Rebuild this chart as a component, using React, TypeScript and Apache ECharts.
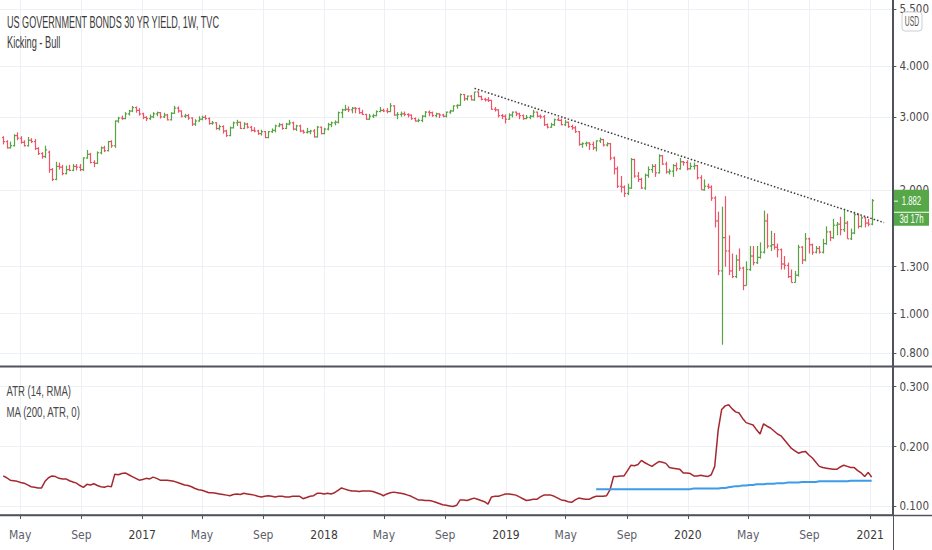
import React, { useEffect, useRef } from "react";
import * as echarts from "echarts";

const TITLE = "US GOVERNMENT BONDS 30 YR YIELD, 1W, TVC";
const SUBTITLE = "Kicking - Bull";
const ATR_LABEL = "ATR (14, RMA)";
const MA_LABEL = "MA (200, ATR, 0)";
const CURRENCY = "USD";
const COUNTDOWN = "3d 17h";

const FIRST_BAR = "2016-03-28";
const X_MIN = "2016-03-21T14:00:00Z";
const X_MAX = "2021-02-14T14:00:00Z";
const X_TICKS = [
  "2016-05-01", "2016-09-01", "2017-01-01", "2017-05-01", "2017-09-01",
  "2018-01-01", "2018-05-01", "2018-09-01", "2019-01-01", "2019-05-01",
  "2019-09-01", "2020-01-01", "2020-05-01", "2020-09-01", "2021-01-01",
];
const MONTHS = ["Jan", "Feb", "Mar", "Apr", "May", "Jun", "Jul", "Aug", "Sep", "Oct", "Nov", "Dec"];
const PRICE_TICKS = [0.8, 1.0, 1.3, 2.0, 3.0, 4.0, 5.5];
const ATR_TICKS = [0.1, 0.2, 0.3];
const PRICE_MIN = 0.7456;
const PRICE_MAX = 5.79;
const ATR_MIN = 0.0858;
const ATR_MAX = 0.3329;

// weekly bars [open, high, low, close]
const bars2016 = [
  [2.68, 2.70, 2.58, 2.62], [2.62, 2.64, 2.52, 2.53], [2.53, 2.62, 2.52, 2.56], [2.56, 2.73, 2.55, 2.71],
  [2.71, 2.76, 2.64, 2.67], [2.67, 2.70, 2.59, 2.61], [2.61, 2.64, 2.55, 2.56], [2.56, 2.69, 2.55, 2.64],
  [2.64, 2.67, 2.60, 2.62], [2.62, 2.66, 2.50, 2.52], [2.52, 2.54, 2.43, 2.45], [2.45, 2.47, 2.38, 2.41],
  [2.41, 2.56, 2.39, 2.50], [2.47, 2.49, 2.20, 2.24], [2.24, 2.26, 2.10, 2.12], [2.12, 2.34, 2.11, 2.28],
  [2.28, 2.33, 2.24, 2.27], [2.27, 2.30, 2.17, 2.19], [2.19, 2.29, 2.18, 2.24], [2.24, 2.30, 2.22, 2.23],
  [2.23, 2.31, 2.22, 2.28], [2.28, 2.31, 2.23, 2.27], [2.27, 2.31, 2.22, 2.24], [2.24, 2.40, 2.22, 2.39],
  [2.39, 2.50, 2.38, 2.44], [2.44, 2.46, 2.32, 2.33], [2.33, 2.36, 2.27, 2.32], [2.32, 2.48, 2.31, 2.46],
  [2.46, 2.55, 2.44, 2.53], [2.53, 2.56, 2.47, 2.49], [2.49, 2.63, 2.48, 2.62], [2.62, 2.64, 2.53, 2.56],
  [2.56, 2.95, 2.53, 2.94], [2.94, 3.01, 2.91, 2.99], [2.99, 3.03, 2.96, 2.98], [2.98, 3.09, 2.97, 3.06],
  [3.06, 3.13, 3.03, 3.11], [3.11, 3.20, 3.09, 3.17], [3.17, 3.19, 3.08, 3.12], [3.12, 3.16, 3.03, 3.06],
];
const bars2017 = [
  [3.06, 3.08, 2.97, 3.00], [3.00, 3.02, 2.94, 2.98], [2.98, 3.05, 2.96, 3.01], [3.01, 3.09, 2.99, 3.06],
  [3.06, 3.10, 3.02, 3.08], [3.08, 3.09, 2.98, 3.01], [3.01, 3.08, 2.99, 3.04], [3.04, 3.06, 2.95, 2.96],
  [2.96, 3.09, 2.95, 3.07], [3.07, 3.20, 3.06, 3.16], [3.16, 3.19, 3.08, 3.11], [3.11, 3.12, 3.00, 3.02],
  [3.02, 3.06, 2.99, 3.03], [3.03, 3.06, 2.96, 2.99], [2.99, 3.00, 2.86, 2.89], [2.89, 2.97, 2.86, 2.94],
  [2.94, 3.02, 2.93, 2.97], [2.97, 3.03, 2.95, 3.00], [3.00, 3.04, 2.96, 2.98], [2.98, 3.00, 2.88, 2.90],
  [2.90, 2.94, 2.88, 2.91], [2.91, 2.92, 2.80, 2.82], [2.82, 2.88, 2.79, 2.85], [2.85, 2.87, 2.74, 2.78],
  [2.78, 2.80, 2.69, 2.71], [2.71, 2.85, 2.70, 2.83], [2.83, 2.93, 2.82, 2.91], [2.91, 2.96, 2.86, 2.92],
  [2.92, 2.93, 2.81, 2.82], [2.82, 2.92, 2.81, 2.89], [2.89, 2.91, 2.82, 2.84], [2.84, 2.86, 2.77, 2.79],
  [2.79, 2.84, 2.76, 2.78], [2.78, 2.80, 2.72, 2.74], [2.74, 2.80, 2.71, 2.77], [2.77, 2.78, 2.67, 2.68],
  [2.68, 2.78, 2.67, 2.77], [2.77, 2.82, 2.75, 2.79], [2.79, 2.88, 2.76, 2.86], [2.86, 2.91, 2.84, 2.88],
  [2.88, 2.90, 2.80, 2.82], [2.82, 2.91, 2.81, 2.89], [2.89, 2.96, 2.87, 2.91], [2.91, 2.93, 2.79, 2.81],
  [2.81, 2.88, 2.78, 2.86], [2.86, 2.88, 2.76, 2.78], [2.78, 2.80, 2.74, 2.76], [2.76, 2.83, 2.74, 2.77],
  [2.77, 2.80, 2.73, 2.78], [2.78, 2.81, 2.68, 2.69], [2.69, 2.86, 2.68, 2.84], [2.84, 2.85, 2.73, 2.74],
];
const bars2018 = [
  [2.74, 2.83, 2.73, 2.81], [2.81, 2.91, 2.79, 2.88], [2.88, 2.93, 2.84, 2.91], [2.91, 2.95, 2.87, 2.92],
  [2.92, 3.10, 2.90, 3.08], [3.08, 3.15, 2.99, 3.13], [3.13, 3.22, 3.11, 3.14], [3.14, 3.19, 3.09, 3.13],
  [3.13, 3.18, 3.07, 3.16], [3.16, 3.18, 3.07, 3.15], [3.15, 3.17, 3.06, 3.08], [3.08, 3.13, 3.04, 3.05],
  [3.05, 3.06, 2.96, 2.97], [2.97, 3.06, 2.96, 3.02], [3.02, 3.06, 2.99, 3.03], [3.03, 3.12, 3.02, 3.10],
  [3.10, 3.18, 3.09, 3.12], [3.12, 3.15, 3.09, 3.11], [3.11, 3.16, 3.07, 3.10], [3.10, 3.25, 3.09, 3.20],
  [3.20, 3.21, 3.03, 3.04], [3.04, 3.09, 2.97, 3.05], [3.05, 3.10, 3.01, 3.06], [3.06, 3.10, 3.02, 3.05],
  [3.05, 3.07, 3.00, 3.04], [3.04, 3.05, 2.96, 2.98], [2.98, 3.00, 2.93, 2.94], [2.94, 2.98, 2.92, 2.95],
  [2.95, 3.04, 2.92, 3.02], [3.02, 3.11, 3.00, 3.09], [3.09, 3.12, 3.02, 3.08], [3.08, 3.10, 3.01, 3.03],
  [3.03, 3.08, 3.00, 3.06], [3.06, 3.07, 2.99, 3.04], [3.04, 3.06, 3.00, 3.02], [3.02, 3.10, 3.00, 3.09],
  [3.09, 3.13, 3.06, 3.11], [3.11, 3.21, 3.10, 3.20], [3.20, 3.23, 3.15, 3.21], [3.21, 3.43, 3.20, 3.41],
  [3.41, 3.42, 3.29, 3.33], [3.33, 3.39, 3.30, 3.38], [3.38, 3.40, 3.30, 3.31], [3.31, 3.46, 3.29, 3.46],
  [3.46, 3.47, 3.36, 3.37], [3.37, 3.39, 3.30, 3.32], [3.32, 3.35, 3.28, 3.31], [3.31, 3.36, 3.27, 3.30],
  [3.30, 3.31, 3.13, 3.14], [3.14, 3.18, 3.10, 3.13], [3.13, 3.14, 3.00, 3.03], [3.03, 3.06, 2.97, 3.02],
];
const bars2019 = [
  [3.02, 3.05, 2.90, 2.97], [2.97, 3.07, 2.96, 3.04], [3.04, 3.10, 3.00, 3.09], [3.09, 3.10, 3.02, 3.06],
  [3.06, 3.08, 2.97, 3.03], [3.03, 3.05, 2.96, 2.98], [2.98, 3.04, 2.97, 3.00], [3.00, 3.04, 2.97, 3.02],
  [3.02, 3.13, 3.00, 3.09], [3.09, 3.10, 3.00, 3.02], [3.02, 3.05, 2.98, 3.01], [3.01, 3.04, 2.86, 2.88],
  [2.88, 2.90, 2.82, 2.84], [2.84, 2.91, 2.83, 2.88], [2.88, 2.98, 2.86, 2.96], [2.96, 3.00, 2.94, 2.95],
  [2.95, 2.98, 2.87, 2.88], [2.88, 2.96, 2.86, 2.92], [2.92, 2.93, 2.83, 2.85], [2.85, 2.88, 2.80, 2.83],
  [2.83, 2.86, 2.75, 2.77], [2.77, 2.78, 2.56, 2.58], [2.58, 2.61, 2.53, 2.59], [2.59, 2.62, 2.55, 2.60],
  [2.60, 2.61, 2.50, 2.58], [2.58, 2.62, 2.50, 2.53], [2.53, 2.64, 2.48, 2.63], [2.63, 2.68, 2.60, 2.65],
  [2.65, 2.66, 2.55, 2.57], [2.57, 2.61, 2.55, 2.59], [2.59, 2.60, 2.36, 2.39], [2.39, 2.41, 2.18, 2.25],
  [2.25, 2.28, 2.02, 2.04], [2.04, 2.16, 1.97, 2.03], [2.03, 2.05, 1.92, 1.96], [1.96, 2.07, 1.94, 2.02],
  [2.02, 2.39, 2.01, 2.37], [2.37, 2.38, 2.14, 2.16], [2.16, 2.21, 2.09, 2.12], [2.12, 2.14, 2.01, 2.02],
  [2.02, 2.19, 2.00, 2.17], [2.17, 2.28, 2.14, 2.24], [2.24, 2.31, 2.20, 2.28], [2.28, 2.31, 2.15, 2.20],
  [2.20, 2.44, 2.19, 2.42], [2.42, 2.43, 2.30, 2.31], [2.31, 2.34, 2.19, 2.21], [2.21, 2.25, 2.18, 2.22],
  [2.22, 2.31, 2.15, 2.29], [2.29, 2.33, 2.22, 2.25], [2.25, 2.39, 2.24, 2.34], [2.34, 2.35, 2.29, 2.33],
];
const bars2020 = [
  [2.33, 2.36, 2.23, 2.25], [2.25, 2.33, 2.24, 2.28], [2.28, 2.33, 2.24, 2.29], [2.29, 2.30, 2.12, 2.14],
  [2.14, 2.17, 2.00, 2.00], [2.00, 2.12, 1.99, 2.04], [2.04, 2.07, 2.01, 2.03], [2.03, 2.05, 1.88, 1.91],
  [1.91, 1.93, 1.62, 1.68], [1.68, 1.77, 1.24, 1.27], [1.27, 1.82, 0.84, 1.53], [1.53, 1.93, 1.30, 1.42],
  [1.42, 1.55, 1.24, 1.27], [1.27, 1.40, 1.22, 1.23], [1.23, 1.39, 1.22, 1.35], [1.35, 1.44, 1.27, 1.29],
  [1.29, 1.30, 1.14, 1.17], [1.17, 1.34, 1.17, 1.28], [1.28, 1.46, 1.27, 1.38], [1.38, 1.46, 1.31, 1.33],
  [1.33, 1.46, 1.32, 1.37], [1.37, 1.49, 1.36, 1.41], [1.41, 1.78, 1.40, 1.68], [1.68, 1.75, 1.44, 1.46],
  [1.46, 1.59, 1.42, 1.47], [1.47, 1.57, 1.43, 1.45], [1.45, 1.48, 1.37, 1.43], [1.43, 1.44, 1.28, 1.32],
  [1.32, 1.38, 1.28, 1.31], [1.31, 1.33, 1.22, 1.23], [1.23, 1.28, 1.19, 1.19], [1.19, 1.27, 1.19, 1.24],
  [1.24, 1.47, 1.23, 1.45], [1.45, 1.46, 1.32, 1.35], [1.35, 1.57, 1.34, 1.52], [1.52, 1.53, 1.40, 1.47],
  [1.47, 1.48, 1.39, 1.41], [1.41, 1.46, 1.40, 1.44], [1.44, 1.46, 1.40, 1.41], [1.41, 1.52, 1.40, 1.48],
  [1.48, 1.63, 1.47, 1.58], [1.58, 1.59, 1.50, 1.53], [1.53, 1.70, 1.52, 1.64], [1.64, 1.67, 1.55, 1.65],
  [1.65, 1.72, 1.55, 1.60], [1.60, 1.80, 1.58, 1.66], [1.66, 1.68, 1.52, 1.52], [1.52, 1.61, 1.51, 1.57],
  [1.57, 1.77, 1.56, 1.74], [1.74, 1.75, 1.61, 1.63], [1.63, 1.73, 1.62, 1.71], [1.71, 1.72, 1.62, 1.66],
  [1.66, 1.70, 1.63, 1.65],
];
const bars2021 = [[1.65, 1.90, 1.64, 1.882]];

// ATR (14, RMA), one value per weekly bar
const atr = [
  0.151, 0.148, 0.144, 0.143, 0.142, 0.140, 0.139, 0.136, 0.133, 0.132,
  0.131, 0.131, 0.142, 0.148, 0.151, 0.150, 0.147, 0.146, 0.146, 0.143,
  0.141, 0.139, 0.135, 0.132, 0.137, 0.136, 0.138, 0.135, 0.133, 0.132,
  0.134, 0.133, 0.154, 0.153, 0.155, 0.156, 0.153, 0.150, 0.147, 0.144,
  0.145, 0.147, 0.146, 0.149, 0.147, 0.144, 0.144, 0.144, 0.143, 0.142,
  0.140, 0.138, 0.136, 0.135, 0.133, 0.130, 0.128, 0.127, 0.125, 0.123,
  0.123, 0.122, 0.121, 0.120, 0.119, 0.118, 0.120, 0.121, 0.120, 0.122,
  0.121, 0.120, 0.119, 0.117, 0.116, 0.117, 0.118, 0.117, 0.116, 0.117,
  0.117, 0.116, 0.116, 0.117, 0.117, 0.117, 0.113, 0.115, 0.117, 0.118,
  0.122, 0.122, 0.121, 0.122, 0.121, 0.123, 0.127, 0.131, 0.129, 0.127,
  0.126, 0.126, 0.125, 0.126, 0.126, 0.126, 0.125, 0.123, 0.121, 0.118,
  0.121, 0.123, 0.124, 0.123, 0.122, 0.121, 0.119, 0.117, 0.114, 0.111,
  0.111, 0.110, 0.110, 0.109, 0.107, 0.105, 0.103, 0.102, 0.101, 0.100,
  0.102, 0.111, 0.111, 0.110, 0.112, 0.114, 0.112, 0.110, 0.108, 0.104,
  0.116, 0.117, 0.117, 0.119, 0.121, 0.121, 0.120, 0.119, 0.116, 0.113,
  0.110, 0.111, 0.112, 0.112, 0.116, 0.119, 0.119, 0.119, 0.117, 0.114,
  0.111, 0.110, 0.108, 0.107, 0.111, 0.114, 0.113, 0.112, 0.112, 0.115,
  0.117, 0.117, 0.117, 0.118, 0.128, 0.150, 0.150, 0.151, 0.151, 0.160,
  0.169, 0.168, 0.170, 0.177, 0.173, 0.170, 0.167, 0.171, 0.175, 0.174,
  0.172, 0.165, 0.164, 0.163, 0.162, 0.156, 0.156, 0.155, 0.151, 0.151,
  0.152, 0.151, 0.150, 0.153, 0.167, 0.228, 0.262, 0.268, 0.270, 0.263,
  0.258, 0.256, 0.247, 0.240, 0.238, 0.236, 0.228, 0.221, 0.238, 0.234,
  0.231, 0.226, 0.221, 0.218, 0.211, 0.204, 0.197, 0.193, 0.189, 0.191,
  0.192, 0.186, 0.181, 0.174, 0.167, 0.165, 0.164, 0.163, 0.162, 0.162,
  0.166, 0.169, 0.167, 0.165, 0.165, 0.160, 0.156, 0.150, 0.157, 0.149,
];

// MA (200) of ATR, starts at bar index MA_START
const MA_START = 170;
const maAtr = [
  0.129, 0.129, 0.129, 0.129, 0.129, 0.129, 0.129, 0.129, 0.129, 0.129,
  0.129, 0.129, 0.129, 0.129, 0.129, 0.129, 0.129, 0.129, 0.129, 0.129,
  0.129, 0.129, 0.129, 0.129, 0.129, 0.129, 0.129, 0.129, 0.130, 0.130,
  0.130, 0.130, 0.130, 0.130, 0.130, 0.130, 0.131, 0.131, 0.132, 0.133,
  0.134, 0.134, 0.135, 0.135, 0.136, 0.136, 0.137, 0.137, 0.137, 0.138,
  0.138, 0.138, 0.139, 0.139, 0.139, 0.140, 0.140, 0.140, 0.140, 0.141,
  0.141, 0.141, 0.141, 0.141, 0.142, 0.142, 0.142, 0.142, 0.142, 0.142,
  0.142, 0.142, 0.142, 0.143, 0.143, 0.143, 0.143, 0.143, 0.143, 0.143,
];

// dotted trend line: [date, yield]
const trendLine = [
  ["2018-10-30", 3.53],
  ["2021-01-29", 1.664],
];

const UP = "#58a444";
const DOWN = "#ef5367";
const LABEL_GREEN = "#55a748";
const ATR_COLOR = "#a6282f";
const MA_COLOR = "#3f9be8";
const GRID_COLOR = "#edf0f4";
const AXIS_COLOR = "#50535e";
const AXIS_FONT = "'Liberation Sans Narrow', 'Arial Narrow', 'DejaVu Sans Condensed', 'Liberation Sans', sans-serif";
const TEXT_FONT = "'Liberation Sans', Arial, sans-serif";

const WEEK = 7 * 24 * 3600 * 1000;

export default function App() {
  const ref = useRef<HTMLDivElement>(null);

  useEffect(() => {
    if (!ref.current) return;
    const chart = echarts.init(ref.current, undefined, { renderer: "svg" });

    const bars = [...bars2016, ...bars2017, ...bars2018, ...bars2019, ...bars2020, ...bars2021];
    const t0 = Date.parse(FIRST_BAR + "T00:00:00Z");
    const dates = bars.map((_, i) => t0 + i * WEEK);
    const ohlc = bars.map((b, i) => [dates[i], b[0], b[1], b[2], b[3]]);
    const atrData = atr.map((v, i) => [dates[i], v]);
    const maData = maAtr.map((v, k) => [dates[MA_START + k], v]);
    const trendData = trendLine.map(([d, v]) => [Date.parse((d as string) + "T00:00:00Z"), v]);
    const xTicks = X_TICKS.map((d) => Date.parse(d + "T00:00:00Z"));
    const xMin = Date.parse(X_MIN);
    const xMax = Date.parse(X_MAX);

    const xFormatter = (v: number) => {
      const d = new Date(v);
      return d.getUTCMonth() === 0 ? `{y|${d.getUTCFullYear()}}` : `{m|${MONTHS[d.getUTCMonth()]}}`;
    };

    const yAxisCommon = {
      position: "right",
      axisLine: { show: true, onZero: false, lineStyle: { color: AXIS_COLOR, width: 1 } },
      axisTick: { show: true, length: 4, lineStyle: { color: AXIS_COLOR } },
      splitLine: { show: true, lineStyle: { color: GRID_COLOR, width: 1 } },
    };

    chart.setOption({
      animation: false,
      backgroundColor: "#ffffff",
      grid: [
        { left: 0, right: 39, top: 0, height: 366 },
        { left: 0, right: 39, top: 367, height: 148 },
      ],
      xAxis: [
        {
          type: "value", gridIndex: 0, min: xMin, max: xMax, scale: true,
          axisLine: { show: false },
          axisTick: { show: false, customValues: xTicks },
          axisLabel: { show: false, customValues: xTicks },
          splitLine: { show: true, lineStyle: { color: GRID_COLOR, width: 1 } },
        },
        {
          type: "value", gridIndex: 1, min: xMin, max: xMax, scale: true,
          axisLine: { show: true, onZero: false, lineStyle: { color: AXIS_COLOR, width: 1.5 } },
          axisTick: { show: true, length: 4, customValues: xTicks, lineStyle: { color: AXIS_COLOR } },
          axisLabel: {
            customValues: xTicks, formatter: xFormatter, margin: 14,
            rich: {
              y: { color: "#3a3a3a", fontSize: 12, fontFamily: AXIS_FONT },
              m: { color: "#5d606b", fontSize: 12, fontFamily: AXIS_FONT },
            },
          },
          splitLine: { show: true, lineStyle: { color: GRID_COLOR, width: 1 } },
        },
      ],
      yAxis: [
        {
          ...yAxisCommon,
          type: "log", logBase: 10, gridIndex: 0, min: PRICE_MIN, max: PRICE_MAX,
          axisTick: { ...yAxisCommon.axisTick, customValues: PRICE_TICKS },
          axisLabel: {
            customValues: PRICE_TICKS, margin: 7, color: "#4a4a4a", fontSize: 11.5, fontFamily: AXIS_FONT,
            formatter: (v: number) => Number(v).toFixed(3),
          },
        },
        {
          ...yAxisCommon,
          type: "value", gridIndex: 1, min: ATR_MIN, max: ATR_MAX,
          axisTick: { ...yAxisCommon.axisTick, customValues: ATR_TICKS },
          axisLabel: {
            customValues: ATR_TICKS, margin: 7, color: "#4a4a4a", fontSize: 11.5, fontFamily: AXIS_FONT,
            formatter: (v: number) => Number(v).toFixed(3),
          },
        },
      ],
      series: [
        {
          type: "custom",
          name: "30Y",
          xAxisIndex: 0,
          yAxisIndex: 0,
          clip: true,
          dimensions: ["t", "o", "h", "l", "c"],
          encode: { x: 0, y: [1, 2, 3, 4] },
          data: ohlc,
          renderItem: (params: any, api: any) => {
            const t = api.value(0);
            const o = api.value(1);
            const h = api.value(2);
            const l = api.value(3);
            const c = api.value(4);
            const pH = api.coord([t, h]);
            const pL = api.coord([t, l]);
            const pO = api.coord([t, o]);
            const pC = api.coord([t, c]);
            const x = Math.round(pH[0]) + 0.5;
            const style = { stroke: c >= o ? UP : DOWN, lineWidth: 1.2 };
            return {
              type: "group",
              children: [
                { type: "line", shape: { x1: x, y1: pH[1], x2: x, y2: pL[1] }, style },
                { type: "line", shape: { x1: x - 1.6, y1: pO[1], x2: x, y2: pO[1] }, style },
                { type: "line", shape: { x1: x, y1: pC[1], x2: x + 1.6, y2: pC[1] }, style },
              ],
            };
          },
        },
        {
          type: "line",
          name: "trend",
          xAxisIndex: 0,
          yAxisIndex: 0,
          data: trendData,
          showSymbol: false,
          symbol: "none",
          lineStyle: { color: "#3a3a3a", width: 1.5, type: [1.5, 2] },
        },
        {
          type: "line",
          name: "ATR",
          xAxisIndex: 1,
          yAxisIndex: 1,
          data: atrData,
          showSymbol: false,
          symbol: "none",
          lineStyle: { color: ATR_COLOR, width: 1.5 },
        },
        {
          type: "line",
          name: "MA",
          xAxisIndex: 1,
          yAxisIndex: 1,
          data: maData,
          showSymbol: false,
          symbol: "none",
          lineStyle: { color: MA_COLOR, width: 2 },
        },
      ],
    });

    // text fitting helper (the reference uses a condensed face)
    const ctx = document.createElement("canvas").getContext("2d") as CanvasRenderingContext2D;
    const scaleFor = (text: string, size: number, width: number) => {
      ctx.font = `${size}px ${TEXT_FONT}`;
      const w = ctx.measureText(text).width;
      return w > 0 ? width / w : 1;
    };
    const txt = (text: string, x: number, y: number, size: number, width: number, fill: string, align = "left") => ({
      type: "text",
      x,
      y,
      scaleX: scaleFor(text, size, width),
      z: 100,
      style: { text, x: 0, y: 0, fontSize: size, fontFamily: TEXT_FONT, fill, align, verticalAlign: "middle" },
    });

    const last = ohlc[ohlc.length - 1];
    const lastClose = last[4] as number;
    const pix = chart.convertToPixel({ xAxisIndex: 0, yAxisIndex: 0 }, [last[0], lastClose]) as number[];
    const py = pix && isFinite(pix[1]) ? pix[1] : 201;

    chart.setOption({
      graphic: [
        { type: "line", z: 90, shape: { x1: 0, y1: 366.5, x2: 932, y2: 366.5 }, style: { stroke: AXIS_COLOR, lineWidth: 2 } },
        { type: "line", z: 90, shape: { x1: 893.5, y1: 0, x2: 893.5, y2: 550 }, style: { stroke: AXIS_COLOR, lineWidth: 1 } },
        { type: "line", z: 90, shape: { x1: 0, y1: 515.5, x2: 932, y2: 515.5 }, style: { stroke: AXIS_COLOR, lineWidth: 1.5 } },
        txt(TITLE, 7, 22, 17, 213, "#3a3a3a"),
        txt(SUBTITLE, 7, 42.5, 17, 53.5, "#3a3a3a"),
        txt(ATR_LABEL, 6.5, 391.5, 15, 64.5, "#474747"),
        txt(MA_LABEL, 6.5, 412, 15, 74.5, "#474747"),
        { type: "rect", z: 100, shape: { x: 902, y: 12, width: 20, height: 19, r: 3 }, style: { fill: "#ffffff", stroke: "#c9cdd3", lineWidth: 1 } },
        txt(CURRENCY, 912, 20.5, 14, 14.3, "#555555", "center"),
        { type: "rect", z: 100, shape: { x: 894, y: py - 11, width: 35, height: 22 }, style: { fill: LABEL_GREEN } },
        { type: "rect", z: 100, shape: { x: 894, y: py + 12, width: 35, height: 13 }, style: { fill: LABEL_GREEN } },
        { type: "line", z: 101, shape: { x1: 894, y1: py + 0.5, x2: 898, y2: py + 0.5 }, style: { stroke: "#ffffff", lineWidth: 1 } },
        txt(lastClose.toFixed(3), 911.5, py, 12, 19.3, "#ffffff", "center"),
        txt(COUNTDOWN, 911.5, py + 18.5, 12, 24, "#ffffff", "center"),
      ],
    });

    return () => chart.dispose();
  }, []);

  return (
    <div
      ref={ref}
      style={{ position: "fixed", left: 0, top: 0, width: 932, height: 550, background: "#fff" }}
    />
  );
}
